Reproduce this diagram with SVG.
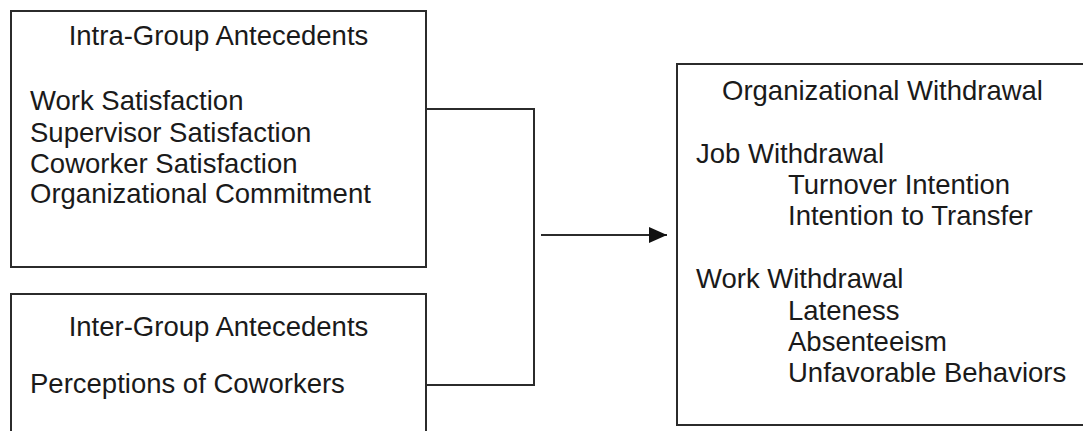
<svg xmlns="http://www.w3.org/2000/svg" width="1083" height="431" viewBox="0 0 1083 431">
  <style>
    .box { fill: #ffffff; stroke: #2b2b2b; stroke-width: 2; }
    .wire { fill: none; stroke: #2b2b2b; stroke-width: 2; }
    text { font-family: "Liberation Sans", Arial, sans-serif; font-size: 27.5px; fill: #1a1a1a; }
    .title { text-anchor: middle; }
  </style>
  <defs>
    <marker id="arrowhead" viewBox="0 0 18 16" refX="18" refY="8" markerWidth="18" markerHeight="16" markerUnits="userSpaceOnUse" orient="auto">
      <path d="M0,0 L18,8 L0,16 Z" fill="#111111"/>
    </marker>
  </defs>
  <rect width="1083" height="431" fill="#ffffff"/>

  <!-- connectors -->
  <g id="connectors">
    <polyline class="wire" points="426,109 534,109 534,385 426,385"/>
    <line class="wire" x1="541" y1="235" x2="667" y2="235" marker-end="url(#arrowhead)"/>
  </g>

  <!-- intra-group antecedents -->
  <g id="intra-group">
    <rect class="box" x="11" y="11" width="415" height="256"/>
    <text class="title" x="218.5" y="45">Intra-Group Antecedents</text>
    <text x="30" y="110">Work Satisfaction</text>
    <text x="30" y="142">Supervisor Satisfaction</text>
    <text x="30" y="173">Coworker Satisfaction</text>
    <text x="30" y="203">Organizational Commitment</text>
  </g>

  <!-- inter-group antecedents -->
  <g id="inter-group">
    <rect class="box" x="11" y="294" width="415" height="150"/>
    <text class="title" x="218.5" y="336">Inter-Group Antecedents</text>
    <text x="30" y="393">Perceptions of Coworkers</text>
  </g>

  <!-- organizational withdrawal -->
  <g id="withdrawal">
    <rect class="box" x="677" y="64" width="412" height="361"/>
    <text class="title" x="882.5" y="100">Organizational Withdrawal</text>
    <text x="696" y="163">Job Withdrawal</text>
    <text x="788" y="194">Turnover Intention</text>
    <text x="788" y="225">Intention to Transfer</text>
    <text x="696" y="288">Work Withdrawal</text>
    <text x="788" y="320">Lateness</text>
    <text x="788" y="351">Absenteeism</text>
    <text x="788" y="382">Unfavorable Behaviors</text>
  </g>
</svg>
